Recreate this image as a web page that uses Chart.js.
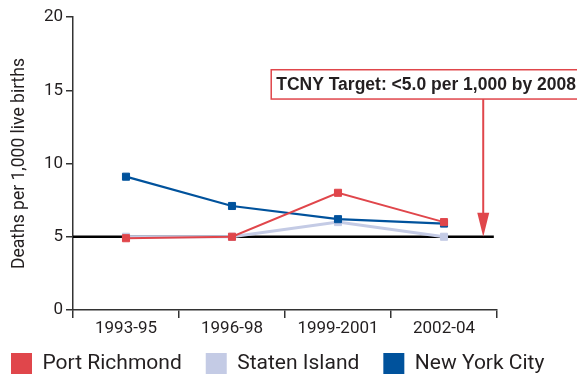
<!DOCTYPE html>
<html>
<head>
<meta charset="utf-8">
<script src="https://cdn.jsdelivr.net/npm/chart.js@4"></script>
<style>
  html, body { margin: 0; padding: 0; background: #ffffff; }
  #wrap { width: 577px; height: 375px; }
</style>
</head>
<body>
<div id="wrap"><canvas id="chart" width="577" height="375"></canvas></div>
<script>
// Infant mortality, deaths per 1,000 live births
const periods = ['1993-95', '1996-98', '1999-2001', '2002-04'];
const portRichmond = [4.9, 5.0, 8.0, 6.0];
const statenIsland = [5.0, 5.0, 6.0, 5.0];
const newYorkCity  = [9.1, 7.1, 6.2, 5.9];
const yTickValues  = [0, 5, 10, 15, 20];

// Goal line and its call-out
const targetValue = 5.0;
const targetLabel = 'TCNY Target: <5.0 per 1,000 by 2008';

const RED   = '#e0464b';
const LIGHT = '#c4cbe5';
const BLUE  = '#00529c';
const INK   = '#231f20';
const FONT  = 'Roboto, "Noto Sans", sans-serif';

// Horizontal goal line, drawn under the series
const targetLinePlugin = {
  id: 'targetLine',
  beforeDatasetsDraw(chart) {
    const { ctx, chartArea, scales: { x, y } } = chart;
    const py = y.getPixelForValue(targetValue);
    ctx.save();
    ctx.strokeStyle = '#000000';
    ctx.lineWidth = 2.5;
    ctx.beginPath();
    ctx.moveTo(chartArea.left, py);
    ctx.lineTo(x.getPixelForValue(3.47), py);
    ctx.stroke();
    ctx.restore();
  }
};

// Labelled box with an arrow pointing down to the goal line
const targetCalloutPlugin = {
  id: 'targetCallout',
  afterDraw(chart) {
    const { ctx, scales: { x, y } } = chart;
    const ax = x.getPixelForValue(3.37);
    const tipY = y.getPixelForValue(targetValue);
    const boxTop = y.getPixelForValue(16.4);
    const boxBottom = y.getPixelForValue(14.4);
    const boxLeft = x.getPixelForValue(1.37);
    ctx.save();
    // arrow shaft
    ctx.strokeStyle = RED;
    ctx.lineWidth = 2;
    ctx.beginPath();
    ctx.moveTo(ax, boxBottom);
    ctx.lineTo(ax, tipY - 20);
    ctx.stroke();
    // arrow head
    ctx.fillStyle = RED;
    ctx.beginPath();
    ctx.moveTo(ax - 6, tipY - 24);
    ctx.lineTo(ax + 6, tipY - 24);
    ctx.lineTo(ax, tipY);
    ctx.closePath();
    ctx.fill();
    // box
    ctx.fillStyle = '#ffffff';
    ctx.fillRect(boxLeft, boxTop, chart.width - boxLeft + 10, boxBottom - boxTop);
    ctx.lineWidth = 1.5;
    ctx.strokeRect(boxLeft, boxTop, chart.width - boxLeft + 10, boxBottom - boxTop);
    // text
    ctx.fillStyle = INK;
    ctx.font = 'bold 17.5px "Liberation Sans", Arial, sans-serif';
    ctx.textBaseline = 'middle';
    ctx.textAlign = 'left';
    ctx.fillText(targetLabel, boxLeft + 5, (boxTop + boxBottom) / 2 + 1);
    ctx.restore();
  }
};

// Keep the legend on one row across the full width, tucked into the lower-left corner
const legendPlacePlugin = {
  id: 'legendPlace',
  afterLayout(chart) {
    const legend = chart.legend;
    if (legend) {
      legend.left -= 13;
      legend.top -= 11;
      legend.right = chart.width + 200;
    }
  }
};

function series(label, data, color, width) {
  return {
    label,
    data,
    borderColor: color,
    backgroundColor: color,
    borderWidth: width,
    pointStyle: 'rect',
    pointRadius: 5,
    pointBorderWidth: 1,
    pointBackgroundColor: color,
    pointBorderColor: color,
    tension: 0,
    fill: false
  };
}

const datasets = [
  Object.assign(series('Port Richmond', portRichmond, RED, 2), { order: 1 }),
  Object.assign(series('Staten Island', statenIsland, LIGHT, 3), { order: 3 }),
  Object.assign(series('New York City', newYorkCity, BLUE, 2.2), { order: 2 })
];

new Chart(document.getElementById('chart'), {
  type: 'line',
  data: { labels: periods, datasets },
  plugins: [targetLinePlugin, targetCalloutPlugin, legendPlacePlugin],
  options: {
    responsive: false,
    devicePixelRatio: 1,
    animation: false,
    layout: { padding: { top: 17, right: 80, left: 0, bottom: 0 } },
    plugins: {
      tooltip: { enabled: false },
      legend: {
        position: 'bottom',
        align: 'start',
        maxHeight: 35,
        labels: {
          boxWidth: 21,
          boxHeight: 21,
          padding: 24,
          color: INK,
          font: { family: FONT, size: 21 },
          sort: (a, b) => a.datasetIndex - b.datasetIndex,
          generateLabels(chart) {
            return Chart.defaults.plugins.legend.labels.generateLabels(chart)
              .map(item => Object.assign(item, { lineWidth: 0 }));
          }
        }
      }
    },
    scales: {
      x: {
        type: 'category',
        offset: true,
        afterFit(scale) { scale.height = 30; },
        border: { display: true, color: '#333333', width: 1.5 },
        grid: {
          offset: true,
          drawOnChartArea: false,
          drawTicks: true,
          tickLength: 8,
          color: '#333333',
          lineWidth: 1.5
        },
        ticks: {
          color: INK,
          font: { family: FONT, size: 17 },
          padding: 1,
          maxRotation: 0
        }
      },
      y: {
        min: 0,
        max: 20,
        afterFit(scale) { scale.width = 73; },
        afterBuildTicks(scale) { scale.ticks = yTickValues.map(v => ({ value: v })); },
        border: { display: true, color: '#333333', width: 1.5 },
        grid: {
          drawOnChartArea: false,
          drawTicks: true,
          tickLength: 7,
          color: '#333333',
          lineWidth: 1.5
        },
        ticks: {
          color: INK,
          font: { family: FONT, size: 17 },
          padding: 3
        },
        title: {
          display: true,
          text: 'Deaths per 1,000 live births',
          color: INK,
          font: { family: FONT, size: 17.5 },
          padding: { top: 9, bottom: 2 }
        }
      }
    }
  }
});
</script>
</body>
</html>
